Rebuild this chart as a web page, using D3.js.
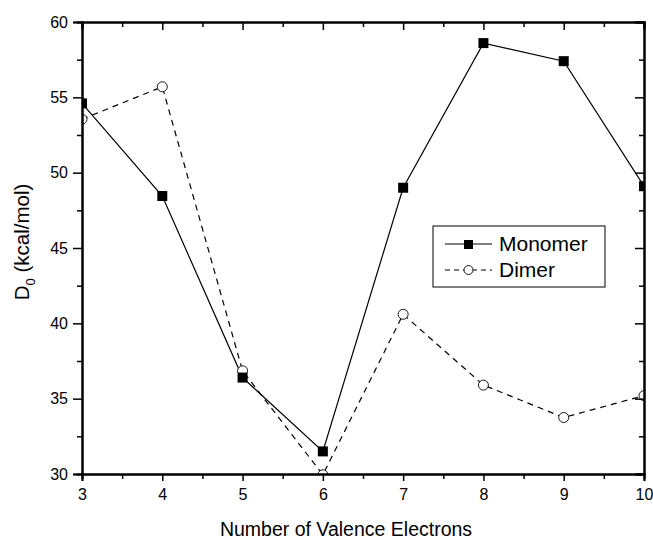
<!DOCTYPE html>
<html>
<head>
<meta charset="utf-8">
<script src="https://cdn.jsdelivr.net/npm/d3@7"></script>
<style>
  body { margin: 0; background: #fff; }
  svg { display: block; font-family: "Liberation Sans", Arial, sans-serif; }
</style>
</head>
<body>
<div id="app"></div>
<script>
// valence electron count on x
var electrons = [3, 4, 5, 6, 7, 8, 9, 10];
var monomer = [54.6, 48.45, 36.4, 31.5, 49.0, 58.6, 57.4, 49.1];
var dimer = [53.55, 55.7, 36.85, 29.95, 40.6, 35.9, 33.75, 35.2];
var xTicks = [3, 4, 5, 6, 7, 8, 9, 10];
var yTicks = [30, 35, 40, 45, 50, 55, 60];

var width = 653, height = 540;
var margin = {left: 82, right: 9, top: 22, bottom: 66};

var svg = d3.select("#app").append("svg").attr("width", width).attr("height", height);

var x = d3.scaleLinear().domain([3, 10]).range([margin.left, width - margin.right]);
var y = d3.scaleLinear().domain([30, 60]).range([height - margin.bottom, margin.top]);

var minorX = d3.range(3.5, 10, 1);
var minorY = d3.range(32.5, 60, 5);

// markers get cut at the frame like in the original plot
svg.append("clipPath").attr("id", "plotclip").append("rect")
  .attr("x", x(3)).attr("y", y(60)).attr("width", x(10) - x(3)).attr("height", y(30) - y(60));

var plot = svg.append("g").attr("clip-path", "url(#plotclip)");

var line = d3.line().x(function(d, i) { return x(electrons[i]); }).y(function(d) { return y(d); });

plot.append("path").datum(dimer).attr("fill", "none").attr("stroke", "#000")
  .attr("stroke-width", 1.2).attr("stroke-dasharray", "6,5").attr("d", line);
plot.append("path").datum(monomer).attr("fill", "none").attr("stroke", "#000")
  .attr("stroke-width", 1.2).attr("d", line);

plot.selectAll(".dot").data(dimer).enter().append("circle")
  .attr("cx", function(d, i) { return x(electrons[i]); })
  .attr("cy", function(d) { return y(d); })
  .attr("r", 5).attr("fill", "#fff").attr("stroke", "#000").attr("stroke-width", 0.9);
plot.selectAll(".sq").data(monomer).enter().append("rect")
  .attr("x", function(d, i) { return x(electrons[i]) - 5; })
  .attr("y", function(d) { return y(d) - 5; })
  .attr("width", 10).attr("height", 10).attr("fill", "#000");

function styleAxis(g) {
  g.select(".domain").attr("stroke", "#000").attr("stroke-width", 2);
  g.selectAll(".tick line").attr("stroke", "#000").attr("stroke-width", 1.5);
  g.selectAll(".tick text").attr("fill", "#000").style("font-size", "16px");
}

// bottom
svg.append("g").attr("transform", "translate(0," + y(30) + ")")
  .call(d3.axisBottom(x).tickValues(xTicks).tickFormat(d3.format("d")).tickSize(7).tickPadding(8))
  .call(styleAxis);
svg.append("g").attr("transform", "translate(0," + y(30) + ")")
  .call(d3.axisBottom(x).tickValues(minorX).tickFormat("").tickSize(5))
  .call(styleAxis);
// top
svg.append("g").attr("transform", "translate(0," + y(60) + ")")
  .call(d3.axisBottom(x).tickValues(xTicks).tickFormat("").tickSize(8))
  .call(styleAxis);
svg.append("g").attr("transform", "translate(0," + y(60) + ")")
  .call(d3.axisBottom(x).tickValues(minorX).tickFormat("").tickSize(5))
  .call(styleAxis);
// left
svg.append("g").attr("transform", "translate(" + x(3) + ",0)")
  .call(d3.axisLeft(y).tickValues(yTicks).tickFormat(d3.format("d")).tickSize(9).tickPadding(5))
  .call(styleAxis);
svg.append("g").attr("transform", "translate(" + x(3) + ",0)")
  .call(d3.axisLeft(y).tickValues(minorY).tickFormat("").tickSize(5))
  .call(styleAxis);
// right
svg.append("g").attr("transform", "translate(" + x(10) + ",0)")
  .call(d3.axisRight(y).tickValues(yTicks).tickFormat("").tickSize(-9))
  .call(styleAxis);
svg.append("g").attr("transform", "translate(" + x(10) + ",0)")
  .call(d3.axisRight(y).tickValues(minorY).tickFormat("").tickSize(-5))
  .call(styleAxis);

// axis titles
svg.append("text").attr("x", 346).attr("y", 536)
  .attr("text-anchor", "middle").style("font-size", "19.5px").text("Number of Valence Electrons");
var yt = svg.append("text").attr("transform", "translate(29," + 242 + ") rotate(-90)")
  .attr("text-anchor", "middle").style("font-size", "20.5px");
yt.append("tspan").text("D");
yt.append("tspan").attr("dy", 6).style("font-size", "13px").text("0");
yt.append("tspan").attr("dy", -6).text(" (kcal/mol)");

// legend
var lg = svg.append("g");
lg.append("rect").attr("x", 433).attr("y", 226).attr("width", 172).attr("height", 61)
  .attr("fill", "#fff").attr("stroke", "#000").attr("stroke-width", 1);
lg.append("line").attr("x1", 445).attr("x2", 492).attr("y1", 244).attr("y2", 244)
  .attr("stroke", "#000").attr("stroke-width", 1.2);
lg.append("rect").attr("x", 464).attr("y", 240).attr("width", 9).attr("height", 9).attr("fill", "#000");
lg.append("line").attr("x1", 445).attr("x2", 492).attr("y1", 270).attr("y2", 270)
  .attr("stroke", "#000").attr("stroke-width", 1.2).attr("stroke-dasharray", "5,4");
lg.append("circle").attr("cx", 468.5).attr("cy", 270).attr("r", 4.5)
  .attr("fill", "#fff").attr("stroke", "#000").attr("stroke-width", 0.9);
lg.append("text").attr("x", 499).attr("y", 251).style("font-size", "21px").text("Monomer");
lg.append("text").attr("x", 499).attr("y", 277).style("font-size", "21px").text("Dimer");
</script>
</body>
</html>
